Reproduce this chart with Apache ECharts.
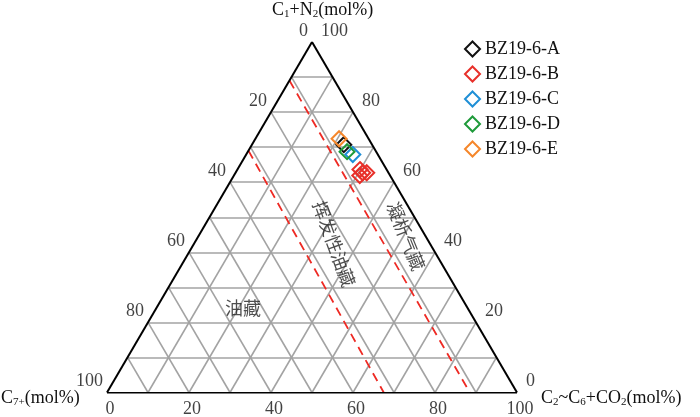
<!DOCTYPE html>
<html>
<head>
<meta charset="utf-8">
<style>
  html, body { margin: 0; padding: 0; background: #fff; }
  #chart { width: 700px; height: 417px; }
</style>
<script src="https://cdn.jsdelivr.net/npm/echarts@6/dist/echarts.min.js"></script>
</head>
<body>
<div id="chart"></div>
<script>
// 样品数据, 每个点为 [C1+N2, C2~C6+CO2, C7+] (mol%)
const sampleNames = ['BZ19-6-A', 'BZ19-6-B', 'BZ19-6-C', 'BZ19-6-D', 'BZ19-6-E'];
const sampleColors = ['#111111', '#e8302a', '#1f8fd6', '#1e9a3a', '#f5862a'];
const bzA = [[70.7, 22.4, 6.9]];
const bzB = [[63.6, 29.9, 6.5], [62.7, 31.0, 6.3], [61.9, 30.7, 7.4], [62.7, 32.0, 5.3]];
const bzC = [[67.9, 26.0, 6.1]];
const bzD = [[68.7, 24.2, 7.1]];
const bzE = [[72.4, 20.4, 7.2]];
const sampleData = [bzA, bzB, bzC, bzD, bzE];

// 刻度
const tickValues = [0, 20, 40, 60, 80, 100];
const gridSteps = [10, 20, 30, 40, 50, 60, 70, 80, 90];

// 分界虚线 (起点, 终点) 同样为三元坐标
const boundaryLines = [
  [[89, 0, 11], [0, 88.5, 11.5]],
  [[69, 0, 31], [0, 67.5, 32.5]]
];

// 区域文字
const zoneNames = ['油藏', '挥发性油藏', '凝析气藏'];
const zoneAnchors = [[24.1, 21.1], [42.4, 34.2], [44.6, 50.6]];
const zoneRotate = [0, -70, -68];

// 三元坐标 -> 直角坐标 (x: 0~100, y: C1)
function toXY(c1, c2) {
  return [c2 + c1 / 2, c1];
}

const serif = 'Liberation Serif';

// 网格线
const gridLines = [];
gridSteps.forEach(v => {
  gridLines.push({ coords: [toXY(v, 0), toXY(v, 100 - v)] });       // C1 恒定
  gridLines.push({ coords: [toXY(100 - v, 0), toXY(0, 100 - v)] }); // C7+ 恒定
  gridLines.push({ coords: [toXY(0, v), toXY(100 - v, v)] });       // C2 恒定
});

const borderLines = [
  { coords: [toXY(0, 0), toXY(0, 100)] },
  { coords: [toXY(0, 100), toXY(100, 0)] },
  { coords: [toXY(100, 0), toXY(0, 0)] }
];

const dashLines = boundaryLines.map(l => ({ coords: [toXY(l[0][0], l[0][1]), toXY(l[1][0], l[1][1])] }));

const tickLabelStyle = { fontFamily: serif, fontSize: 18, color: '#111' };

function labelSeries(data, align, offset) {
  return {
    type: 'scatter',
    silent: true,
    symbolSize: 0,
    data: data,
    label: {
      show: true,
      position: 'inside',
      formatter: p => p.data.name,
      align: align,
      verticalAlign: 'middle',
      offset: offset,
      ...tickLabelStyle
    },
    z: 5
  };
}

const leftTicks = tickValues.map(v => ({ name: String(v), value: toXY(100 - v, 0) }));
const rightTicks = tickValues.map(v => ({ name: String(v), value: toXY(v, 100 - v) }));
const bottomTicks = tickValues.map(v => ({ name: String(v), value: toXY(0, v) }));

const chart = echarts.init(document.getElementById('chart'));

const series = [
  {
    type: 'lines',
    coordinateSystem: 'cartesian2d',
    silent: true,
    data: gridLines,
    lineStyle: { color: '#a3a3a3', width: 1.6, opacity: 1 },
    z: 1
  },
  {
    type: 'lines',
    coordinateSystem: 'cartesian2d',
    silent: true,
    data: dashLines,
    lineStyle: { color: '#ee2a24', width: 1.8, type: [9, 6], opacity: 1 },
    z: 2
  },
  {
    type: 'lines',
    coordinateSystem: 'cartesian2d',
    silent: true,
    data: borderLines,
    lineStyle: { color: '#000', width: 2, opacity: 1 },
    z: 3
  },
  labelSeries(leftTicks, 'right', [-4, -11]),
  labelSeries(rightTicks, 'left', [9, -11]),
  labelSeries(bottomTicks, 'center', [3, 17]),
  {
    type: 'scatter',
    silent: true,
    symbolSize: 0,
    data: zoneNames.map((n, i) => ({
      name: n,
      value: toXY(zoneAnchors[i][0], zoneAnchors[i][1]),
      label: { rotate: zoneRotate[i] }
    })),
    label: {
      show: true,
      position: 'inside',
      formatter: p => p.data.name,
      fontFamily: 'Noto Sans CJK SC',
      fontSize: 18,
      color: '#222'
    },
    z: 5
  }
];

sampleNames.forEach((name, i) => {
  series.push({
    name: name,
    type: 'scatter',
    symbol: 'diamond',
    symbolSize: [15, 15],
    data: sampleData[i].map(d => toXY(d[0], d[1])),
    itemStyle: { color: 'rgba(255,255,255,0)', borderColor: sampleColors[i], borderWidth: 2, opacity: 1 },
    z: 10
  });
});

chart.setOption({
  animation: false,
  grid: { left: 107, top: 42, width: 410, height: 350.5 },
  xAxis: { type: 'value', min: 0, max: 100, show: false },
  yAxis: { type: 'value', min: 0, max: 100, show: false },
  legend: {
    data: sampleNames,
    orient: 'vertical',
    left: 459,
    top: 35,
    itemWidth: 15,
    itemHeight: 15,
    itemGap: 7,
    textStyle: { fontFamily: serif, fontSize: 18, color: '#111' }
  },
  graphic: [
    {
      type: 'text', left: 272, top: 1,
      style: {
        text: 'C{sub|1}+N{sub|2}(mol%)',
        font: '18px "Liberation Serif"', fill: '#111',
        rich: { sub: { fontSize: 11, fontFamily: serif, verticalAlign: 'bottom', padding: [8, 0, 0, 0] } }
      }
    },
    {
      type: 'text', left: 1, top: 389,
      style: {
        text: 'C{sub|7+}(mol%)',
        font: '18px "Liberation Serif"', fill: '#111',
        rich: { sub: { fontSize: 11, fontFamily: serif, verticalAlign: 'bottom', padding: [8, 0, 0, 0] } }
      }
    },
    {
      type: 'text', left: 541, top: 389,
      style: {
        text: 'C{sub|2}~C{sub|6}+CO{sub|2}(mol%)',
        font: '18px "Liberation Serif"', fill: '#111',
        rich: { sub: { fontSize: 11, fontFamily: serif, verticalAlign: 'bottom', padding: [8, 0, 0, 0] } }
      }
    }
  ],
  series: series
});
</script>
</body>
</html>
